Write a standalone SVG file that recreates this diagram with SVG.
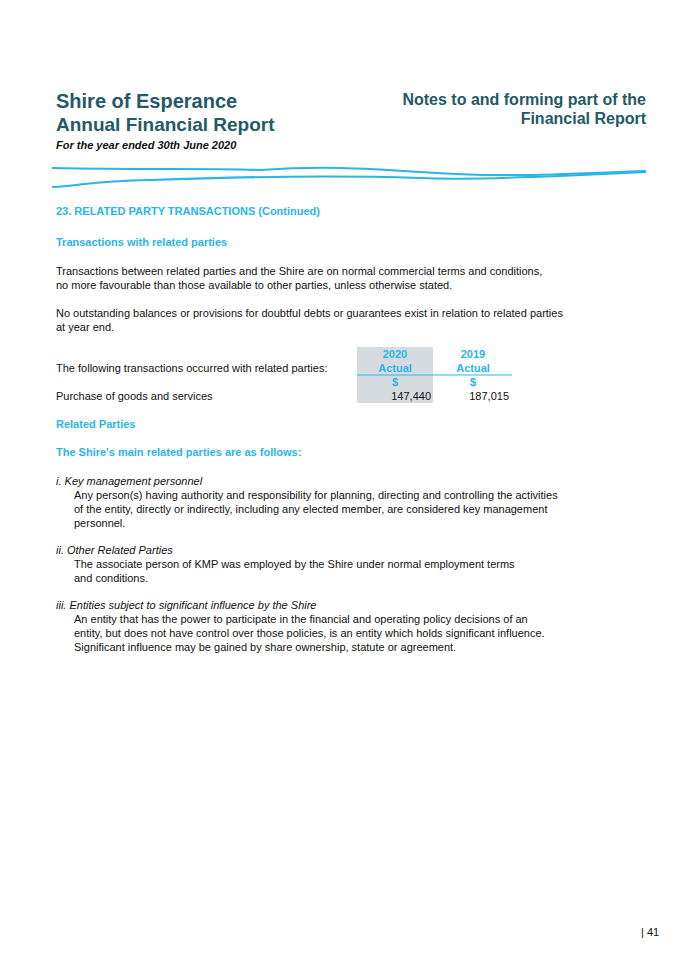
<svg xmlns="http://www.w3.org/2000/svg" width="675" height="954" viewBox="0 0 675 954">
<style>
.h{font-family:"Liberation Sans",Arial,sans-serif;font-weight:bold;fill:#235a63}
.b{font-family:"Liberation Sans",Arial,sans-serif;font-size:11px;fill:#111}
.c{font-family:"Liberation Sans",Arial,sans-serif;font-size:11px;font-weight:bold;fill:#29b5e8}
.i{font-style:italic}
</style>
<rect width="675" height="954" fill="#fff"/>
<text class="h" x="56" y="108" font-size="20">Shire of Esperance</text>
<text class="h" x="56" y="131" font-size="19">Annual Financial Report</text>
<text class="b i" x="56" y="149" font-weight="bold" font-size="11" fill="#222">For the year ended 30th June 2020</text>
<text class="h" x="646" y="105" font-size="16" text-anchor="end">Notes to and forming part of the</text>
<text class="h" x="646" y="124" font-size="16" text-anchor="end">Financial Report</text>
<path d="M52 168 C150 170 200 168 260 170 C320 166 360 168 420 172 C500 178 560 174 646 171" stroke="#29b5e8" stroke-width="2" fill="none"/>
<path d="M52 187 C80 186 90 181 150 180 C260 176 360 176 420 178 C470 180 500 178 560 176 L646 172" stroke="#29b5e8" stroke-width="2" fill="none"/>
<text class="c" x="56" y="215" font-size="14">23. RELATED PARTY TRANSACTIONS (Continued)</text>
<text class="c" x="56" y="246">Transactions with related parties</text>
<text class="b" x="56" y="275">Transactions between related parties and the Shire are on normal commercial terms and conditions,</text>
<text class="b" x="56" y="289">no more favourable than those available to other parties, unless otherwise stated.</text>
<text class="b" x="56" y="317">No outstanding balances or provisions for doubtful debts or guarantees exist in relation to related parties</text>
<text class="b" x="56" y="331">at year end.</text>
<rect x="357" y="347" width="76" height="56" fill="#d6dbe0"/>
<line x1="357" y1="375" x2="512" y2="375" stroke="#29b5e8" stroke-width="1.2"/>
<text class="c" x="395" y="358" text-anchor="middle">2020</text>
<text class="c" x="395" y="372" text-anchor="middle">Actual</text>
<text class="c" x="473" y="358" text-anchor="middle">2019</text>
<text class="c" x="473" y="372" text-anchor="middle">Actual</text>
<text class="c" x="395" y="386" text-anchor="middle">$</text>
<text class="c" x="473" y="386" text-anchor="middle">$</text>
<text class="b" x="56" y="372">The following transactions occurred with related parties:</text>
<text class="b" x="56" y="400">Purchase of goods and services</text>
<text class="b" x="431" y="400" text-anchor="end">147,440</text>
<text class="b" x="509" y="400" text-anchor="end">187,015</text>
<text class="c" x="56" y="428">Related Parties</text>
<text class="c" x="56" y="456">The Shire's main related parties are as follows:</text>
<text class="b i" x="56" y="485">i. Key management personnel</text>
<text class="b" x="74" y="499">Any person(s) having authority and responsibility for planning, directing and controlling the activities</text>
<text class="b" x="74" y="513">of the entity, directly or indirectly, including any elected member, are considered key management</text>
<text class="b" x="74" y="527">personnel.</text>
<text class="b i" x="56" y="554">ii. Other Related Parties</text>
<text class="b" x="74" y="568">The associate person of KMP was employed by the Shire under normal employment terms</text>
<text class="b" x="74" y="582">and conditions.</text>
<text class="b i" x="56" y="609">iii. Entities subject to significant influence by the Shire</text>
<text class="b" x="74" y="623">An entity that has the power to participate in the financial and operating policy decisions of an</text>
<text class="b" x="74" y="637">entity, but does not have control over those policies, is an entity which holds significant influence.</text>
<text class="b" x="74" y="651">Significant influence may be gained by share ownership, statute or agreement.</text>
<text class="b" x="641" y="936" fill="#29b5e8">| 41</text>
</svg>
